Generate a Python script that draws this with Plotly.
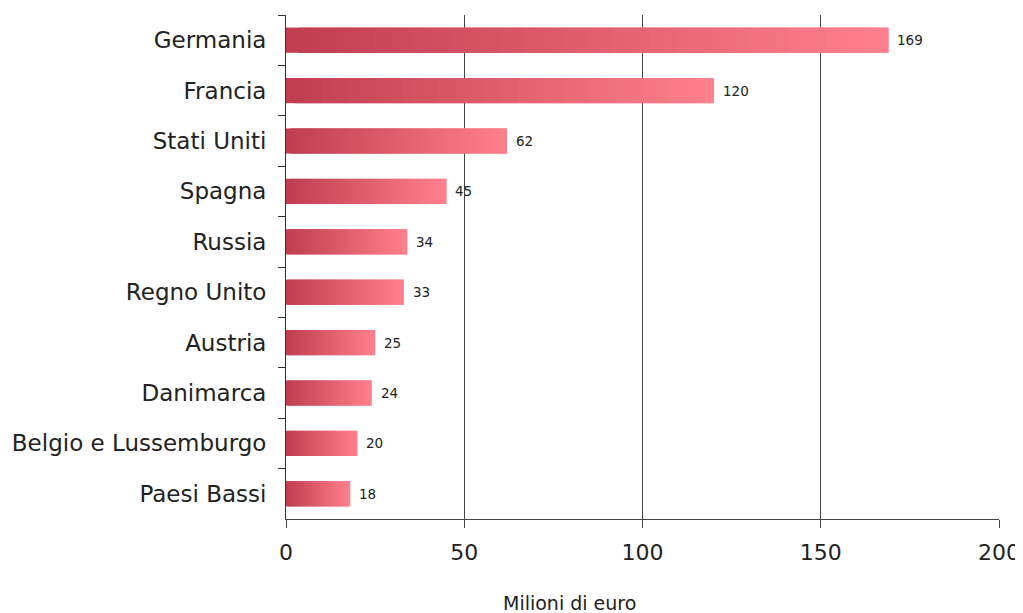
import plotly.graph_objects as go

categories = ["Germania", "Francia", "Stati Uniti", "Spagna", "Russia",
              "Regno Unito", "Austria", "Danimarca", "Belgio e Lussemburgo", "Paesi Bassi"]
values = [169, 120, 62, 45, 34, 33, 25, 24, 20, 18]
x_ticks = [0, 50, 100, 150, 200]

N = 48
c0 = (192, 62, 80)
c1 = (255, 128, 140)

fig = go.Figure()
for k in range(N):
    t = k / (N - 1)
    col = "rgb(%d,%d,%d)" % tuple(round(a + (b - a) * t) for a, b in zip(c0, c1))
    fig.add_trace(go.Bar(
        y=categories, x=[v * min(2, N - k) / N for v in values], base=[v * k / N for v in values],
        orientation="h", marker=dict(color=col, line=dict(width=0)),
        showlegend=False, hoverinfo="skip", width=0.5,
    ))

for c, v in zip(categories, values):
    fig.add_annotation(x=v, y=c, text=str(v), showarrow=False, xanchor="left",
                       xshift=7, font=dict(family="DejaVu Sans", size=13.5, color="#222"))

fig.add_annotation(x=0.398, y=-0.167, xref="paper", yref="paper", text="Milioni di euro",
                   showarrow=False, yanchor="middle", xanchor="center",
                   font=dict(family="DejaVu Sans", size=19, color="#222"))

fig.update_layout(
    width=1023, height=613, barmode="overlay",
    margin=dict(l=278, r=32, t=7, b=102),
    plot_bgcolor="white", paper_bgcolor="white",
    font=dict(family="DejaVu Sans", color="#222"),
)
fig.update_xaxes(
    range=[0, 200], tickvals=x_ticks, showgrid=True, gridcolor="#444", gridwidth=1,
    showline=True, linecolor="#444", linewidth=1, ticks="outside", ticklen=8, tickcolor="#444",
    tickfont=dict(size=22), zeroline=False, automargin=False, ticklabelstandoff=6,
)
fig.update_yaxes(
    autorange="reversed", showline=True, linecolor="#333", linewidth=1,
    ticks="outside", tickson="boundaries", ticklen=7, tickcolor="#333",
    tickfont=dict(size=23), showgrid=False, automargin=False, ticklabelstandoff=14,
)

fig.write_html("out.html")
